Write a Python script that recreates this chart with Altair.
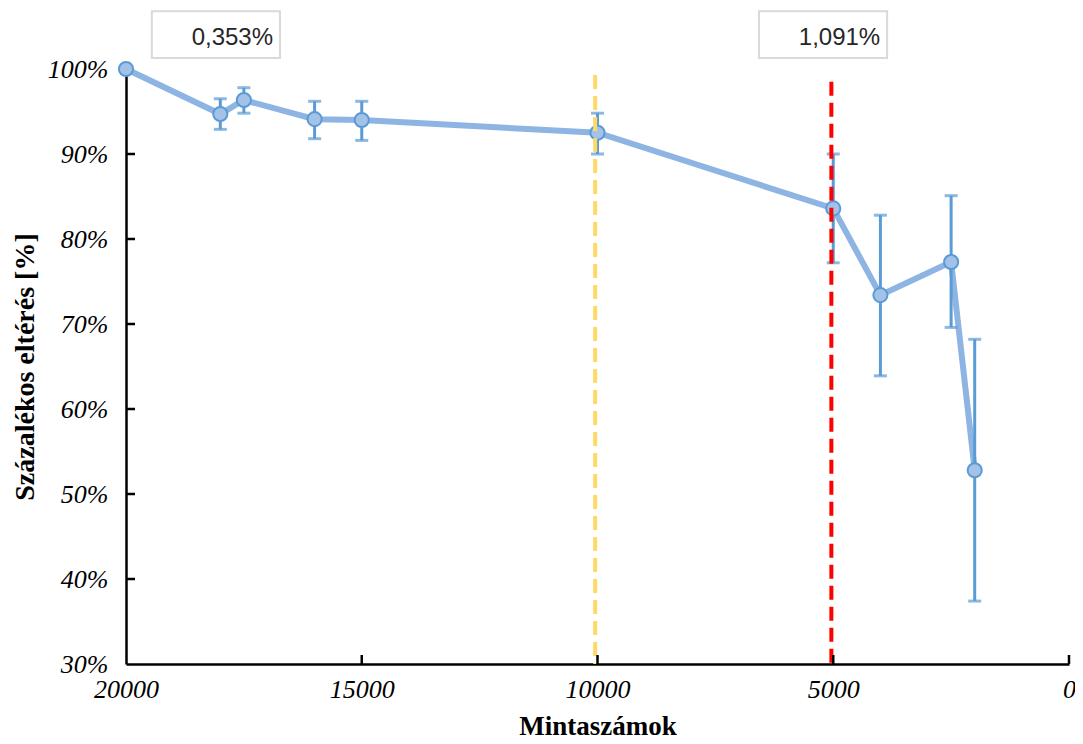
import altair as alt
import pandas as pd

# ---- data ----
samples = [20000, 18000, 17500, 16000, 15000, 10000, 5000, 4000, 2500, 2000]
pct = [100.0, 94.7, 96.35, 94.1, 94.0, 92.5, 83.6, 73.4, 77.3, 52.8]
err_hi = [100.0, 96.5, 97.8, 96.2, 96.2, 94.8, 90.0, 82.8, 85.1, 68.2]
err_lo = [100.0, 92.9, 94.8, 91.8, 91.6, 90.0, 77.2, 63.9, 69.6, 37.4]

x_ticks = [20000, 15000, 10000, 5000, 0]
y_ticks = [30, 40, 50, 60, 70, 80, 90, 100]

ref_x = [10050, 5040]
ref_top = [99.3, 98.5]
ref_color = ["#FFD966", "#FF0000"]

box_text = ["0,353%", "1,091%"]
box_x1 = [19452, 6575]
box_x2 = [16733, 3857]
box_y1 = [101.3, 101.3]
box_y2 = [106.8, 106.8]
text_x = [16881, 4004]
text_y = [103.6, 103.6]

W, H = 943, 595
SERIF = "Liberation Serif"

df = pd.DataFrame({"x": samples, "y": pct, "hi": err_hi, "lo": err_lo})
df_err = df[df["hi"] != df["lo"]]
ref = pd.DataFrame({"x": ref_x, "top": ref_top, "bottom": [30, 30], "c": ref_color})
boxes = pd.DataFrame({"x1": box_x1, "x2": box_x2, "y1": box_y1, "y2": box_y2,
                      "tx": text_x, "ty": text_y, "t": box_text})
xt = pd.DataFrame({"v": x_ticks[1:], "y": [30] * (len(x_ticks) - 1)})
yt = pd.DataFrame({"v": y_ticks[1:-1], "x": [20000] * (len(y_ticks) - 2)})

xscale = alt.Scale(domain=[0, 20000], reverse=True, nice=False, zero=False)
yscale = alt.Scale(domain=[30, 100], nice=False, zero=False)

X = alt.X("x:Q", scale=xscale, title="Mintaszámok",
          axis=alt.Axis(values=x_ticks, format="d", ticks=False, grid=False,
                        labelFlush=False, labelOverlap=False, labelBound=False,
                        labelPadding=12, titlePadding=11, titleFontSize=27))
Y = alt.Y("y:Q", scale=yscale, title="Százalékos eltérés [%]",
          axis=alt.Axis(values=y_ticks, labelExpr="datum.value + '%'", ticks=False,
                        grid=False, labelFlush=False, labelOverlap=False,
                        labelPadding=18, titlePadding=8))

line = alt.Chart(df).mark_line(color="#8DB4E2", strokeWidth=6).encode(x=X, y=Y)

err_rule = alt.Chart(df_err).mark_rule(color="#5B9BD5", strokeWidth=3).encode(
    x=alt.X("x:Q", scale=xscale), y=alt.Y("lo:Q", scale=yscale), y2="hi:Q")
cap_hi = alt.Chart(df_err).mark_tick(color="#5B9BD5", orient="horizontal", size=13,
                                     thickness=3).encode(
    x=alt.X("x:Q", scale=xscale), y=alt.Y("hi:Q", scale=yscale))
cap_lo = alt.Chart(df_err).mark_tick(color="#5B9BD5", orient="horizontal", size=13,
                                     thickness=3).encode(
    x=alt.X("x:Q", scale=xscale), y=alt.Y("lo:Q", scale=yscale))

pts = alt.Chart(df).mark_point(filled=True, fill="#A4C2E8", stroke="#5B9BD5",
                               strokeWidth=2, size=200, opacity=1, fillOpacity=1).encode(
    x=alt.X("x:Q", scale=xscale), y=alt.Y("y:Q", scale=yscale))

refs = alt.Chart(ref).mark_rule(strokeWidth=4, strokeDash=[14, 7]).encode(
    x=alt.X("x:Q", scale=xscale), y=alt.Y("top:Q", scale=yscale), y2="bottom:Q",
    color=alt.Color("c:N", scale=None))

xticks_m = alt.Chart(xt).mark_rule(color="black", strokeWidth=2.5).encode(
    x=alt.X("v:Q", scale=xscale), y=alt.Y("y:Q", scale=yscale), y2=alt.value(H - 9))
yticks_m = alt.Chart(yt).mark_rule(color="black", strokeWidth=2.5).encode(
    y=alt.Y("v:Q", scale=yscale), x=alt.X("x:Q", scale=xscale), x2=alt.value(9))

box_r = alt.Chart(boxes).mark_rect(fill="white", stroke="#D9D9D9", strokeWidth=2).encode(
    x=alt.X("x1:Q", scale=xscale), x2="x2:Q", y=alt.Y("y1:Q", scale=yscale), y2="y2:Q")
box_t = alt.Chart(boxes).mark_text(align="right", baseline="middle", font="Liberation Sans",
                                   fontSize=24, color="#262626").encode(
    x=alt.X("tx:Q", scale=xscale), y=alt.Y("ty:Q", scale=yscale), text="t:N")

chart = alt.layer(line, err_rule, cap_hi, cap_lo, pts, refs, xticks_m, yticks_m,
                  box_r, box_t).properties(
    width=W, height=H,
    autosize=alt.AutoSizeParams(type="none"),
    padding={"left": 118, "top": 61, "right": 6, "bottom": 79},
).configure_view(stroke=None).configure_axis(
    domainColor="black", domainWidth=2.5,
    labelFont=SERIF, labelFontStyle="italic", labelFontSize=26, labelColor="black",
    titleFont=SERIF, titleFontWeight="bold", titleFontSize=28, titleColor="black",
)

chart.save("out.html", embed_options={"renderer": "svg", "actions": False})
